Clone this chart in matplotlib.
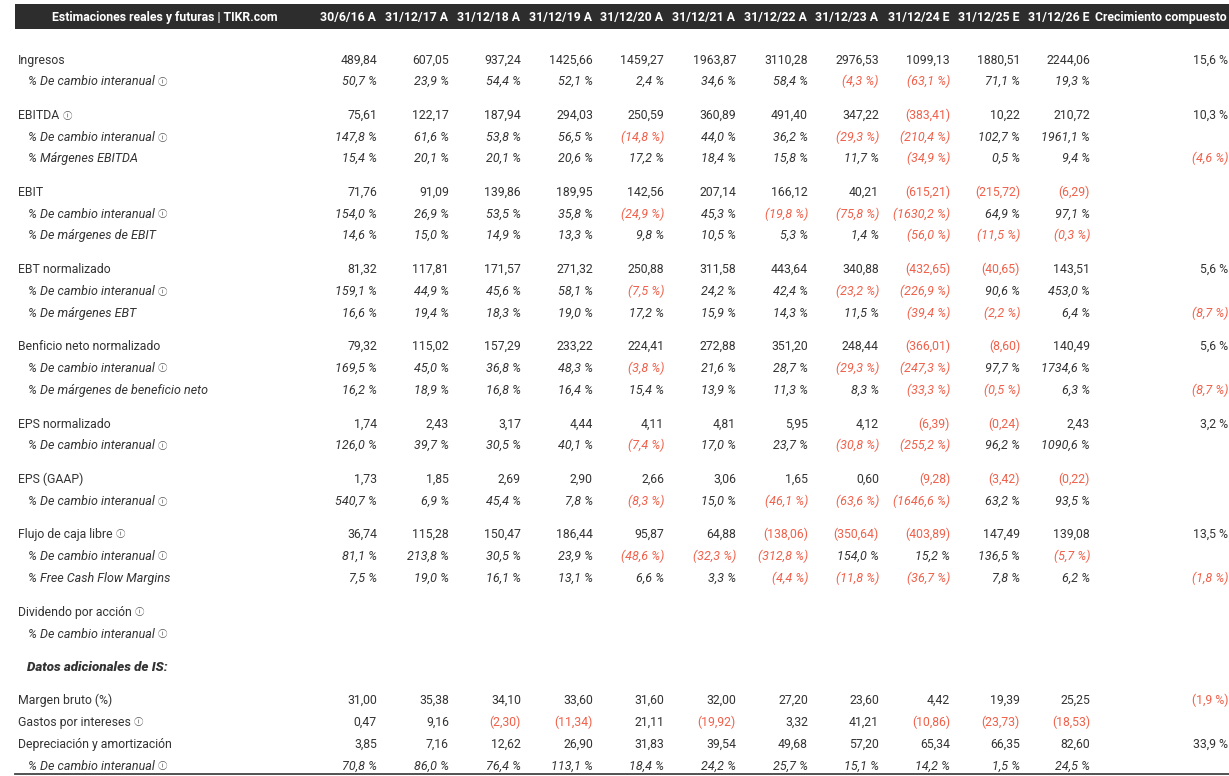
import matplotlib
matplotlib.use("Agg")
import matplotlib.pyplot as plt
from matplotlib.patches import Rectangle

plt.rcParams['font.family'] = ['Roboto', 'DejaVu Sans']

# Columnas
columnas = ['30/6/16 A', '31/12/17 A', '31/12/18 A', '31/12/19 A', '31/12/20 A', '31/12/21 A',
            '31/12/22 A', '31/12/23 A', '31/12/24 E', '31/12/25 E', '31/12/26 E']
titulo = 'Estimaciones reales y futuras | TIKR.com'
col_cagr = 'Crecimiento compuesto'

# Datos por fila
ingresos = [489.84, 607.05, 937.24, 1425.66, 1459.27, 1963.87, 3110.28, 2976.53, 1099.13, 1880.51, 2244.06]
ingresos_yoy = [50.7, 23.9, 54.4, 52.1, 2.4, 34.6, 58.4, -4.3, -63.1, 71.1, 19.3]
ebitda = [75.61, 122.17, 187.94, 294.03, 250.59, 360.89, 491.40, 347.22, -383.41, 10.22, 210.72]
ebitda_yoy = [147.8, 61.6, 53.8, 56.5, -14.8, 44.0, 36.2, -29.3, -210.4, 102.7, 1961.1]
ebitda_margen = [15.4, 20.1, 20.1, 20.6, 17.2, 18.4, 15.8, 11.7, -34.9, 0.5, 9.4]
ebit = [71.76, 91.09, 139.86, 189.95, 142.56, 207.14, 166.12, 40.21, -615.21, -215.72, -6.29]
ebit_yoy = [154.0, 26.9, 53.5, 35.8, -24.9, 45.3, -19.8, -75.8, -1630.2, 64.9, 97.1]
ebit_margen = [14.6, 15.0, 14.9, 13.3, 9.8, 10.5, 5.3, 1.4, -56.0, -11.5, -0.3]
ebt = [81.32, 117.81, 171.57, 271.32, 250.88, 311.58, 443.64, 340.88, -432.65, -40.65, 143.51]
ebt_yoy = [159.1, 44.9, 45.6, 58.1, -7.5, 24.2, 42.4, -23.2, -226.9, 90.6, 453.0]
ebt_margen = [16.6, 19.4, 18.3, 19.0, 17.2, 15.9, 14.3, 11.5, -39.4, -2.2, 6.4]
neto = [79.32, 115.02, 157.29, 233.22, 224.41, 272.88, 351.20, 248.44, -366.01, -8.60, 140.49]
neto_yoy = [169.5, 45.0, 36.8, 48.3, -3.8, 21.6, 28.7, -29.3, -247.3, 97.7, 1734.6]
neto_margen = [16.2, 18.9, 16.8, 16.4, 15.4, 13.9, 11.3, 8.3, -33.3, -0.5, 6.3]
eps = [1.74, 2.43, 3.17, 4.44, 4.11, 4.81, 5.95, 4.12, -6.39, -0.24, 2.43]
eps_yoy = [126.0, 39.7, 30.5, 40.1, -7.4, 17.0, 23.7, -30.8, -255.2, 96.2, 1090.6]
eps_gaap = [1.73, 1.85, 2.69, 2.90, 2.66, 3.06, 1.65, 0.60, -9.28, -3.42, -0.22]
eps_gaap_yoy = [540.7, 6.9, 45.4, 7.8, -8.3, 15.0, -46.1, -63.6, -1646.6, 63.2, 93.5]
fcf = [36.74, 115.28, 150.47, 186.44, 95.87, 64.88, -138.06, -350.64, -403.89, 147.49, 139.08]
fcf_yoy = [81.1, 213.8, 30.5, 23.9, -48.6, -32.3, -312.8, 154.0, 15.2, 136.5, -5.7]
fcf_margen = [7.5, 19.0, 16.1, 13.1, 6.6, 3.3, -4.4, -11.8, -36.7, 7.8, 6.2]
dividendo = [None] * 11
dividendo_yoy = [None] * 11
margen_bruto = [31.00, 35.38, 34.10, 33.60, 31.60, 32.00, 27.20, 23.60, 4.42, 19.39, 25.25]
intereses = [0.47, 9.16, -2.30, -11.34, 21.11, -19.92, 3.32, 41.21, -10.86, -23.73, -18.53]
depreciacion = [3.85, 7.16, 12.62, 26.90, 31.83, 39.54, 49.68, 57.20, 65.34, 66.35, 82.60]
depreciacion_yoy = [70.8, 86.0, 76.4, 113.1, 18.4, 24.2, 25.7, 15.1, 14.2, 1.5, 24.5]

# (etiqueta, valores, cagr, tipo, icono, y)
# tipo: 'n' numero, 'p' porcentaje (italica), 'h' subtitulo
filas = [
    ('Ingresos', ingresos, 15.6, 'n', False, 59),
    ('% De cambio interanual', ingresos_yoy, None, 'p', True, 80),
    ('EBITDA', ebitda, 10.3, 'n', True, 114),
    ('% De cambio interanual', ebitda_yoy, None, 'p', True, 136),
    ('% Márgenes EBITDA', ebitda_margen, -4.6, 'p', False, 157),
    ('EBIT', ebit, None, 'n', False, 191),
    ('% De cambio interanual', ebit_yoy, None, 'p', True, 213),
    ('% De márgenes de EBIT', ebit_margen, None, 'p', False, 234),
    ('EBT normalizado', ebt, 5.6, 'n', False, 268),
    ('% De cambio interanual', ebt_yoy, None, 'p', True, 290),
    ('% De márgenes EBT', ebt_margen, -8.7, 'p', False, 312),
    ('Benficio neto normalizado', neto, 5.6, 'n', False, 345),
    ('% De cambio interanual', neto_yoy, None, 'p', True, 367),
    ('% De márgenes de beneficio neto', neto_margen, -8.7, 'p', False, 389),
    ('EPS normalizado', eps, 3.2, 'n', False, 423),
    ('% De cambio interanual', eps_yoy, None, 'p', True, 444),
    ('EPS (GAAP)', eps_gaap, None, 'n', False, 478),
    ('% De cambio interanual', eps_gaap_yoy, None, 'p', True, 500),
    ('Flujo de caja libre', fcf, 13.5, 'n', True, 533),
    ('% De cambio interanual', fcf_yoy, None, 'p', True, 555),
    ('% Free Cash Flow Margins', fcf_margen, -1.8, 'p', False, 577),
    ('Dividendo por acción', dividendo, None, 'n', True, 611),
    ('% De cambio interanual', dividendo_yoy, None, 'p', True, 633),
    ('Datos adicionales de IS:', None, None, 'h', False, 666),
    ('Margen bruto (%)', margen_bruto, -1.9, 'n', False, 699),
    ('Gastos por intereses', intereses, None, 'n', True, 721),
    ('Depreciación y amortización', depreciacion, 33.9, 'n', False, 743),
    ('% De cambio interanual', depreciacion_yoy, None, 'p', True, 765),
]

x_cols = [377, 449, 521, 593, 664, 736, 808, 879, 950, 1020, 1090]
x_cagr = 1228

GRIS = '#333333'
ROJO = '#f0604a'
FS = 8.8
FS_IT = 9.0
FS_HEAD = 8.8
DY = 1.5


def fmt(v, pct):
    s = f'{abs(v):.1f}' if pct else f'{abs(v):.2f}'
    s = s.replace('.', ',')
    if pct:
        s += ' %'
    if v < 0:
        s = '(' + s + ')'
    return s


fig = plt.figure(figsize=(12.29, 7.76), dpi=100)
ax = fig.add_axes([0, 0, 1, 1])
ax.set_xlim(0, 1229)
ax.set_ylim(776, 0)
ax.axis('off')

# Cabecera
ax.add_patch(Rectangle((15, 4), 1214, 25, color='#2d2d2d', lw=0))
ax.text(164.5, 17, titulo, color='white', fontsize=FS_HEAD, fontweight='bold', ha='center', va='center')
for x, c in zip(x_cols, columnas):
    ax.text(x - 1, 17, c, color='white', fontsize=FS_HEAD, fontweight='bold', ha='right', va='center')
ax.text(x_cagr - 1.5, 17, col_cagr, color='white', fontsize=FS_HEAD, fontweight='bold', ha='right', va='center')

renderer = fig.canvas.get_renderer()

for etiqueta, valores, cagr, tipo, icono, y in filas:
    y = y + DY
    if tipo == 'h':
        ax.text(27, y, etiqueta, color=GRIS, fontsize=9.6, fontweight='black', style='italic',
                ha='left', va='center')
        continue
    ital = 'italic' if tipo == 'p' else 'normal'
    fs = FS_IT if tipo == 'p' else FS
    x0 = 28 if tipo == 'p' else 18
    t = ax.text(x0, y, etiqueta, color=GRIS, fontsize=fs, style=ital, ha='left', va='center')
    if icono:
        bb = t.get_window_extent(renderer)
        ax.text(bb.x1 + 3, y + 0.5, 'ⓘ', color='#555555', fontsize=6.8,
                family=['Noto Sans CJK JP', 'DejaVu Sans'], ha='left', va='center')
    pct = tipo == 'p'
    for x, v in zip(x_cols, valores):
        if v is None:
            continue
        ax.text(x, y, fmt(v, pct), color=ROJO if v < 0 else GRIS, fontsize=fs, style=ital,
                ha='right', va='center')
    if cagr is not None:
        ax.text(x_cagr, y, fmt(cagr, True), color=ROJO if cagr < 0 else GRIS, fontsize=fs,
                style=ital, ha='right', va='center')

ax.plot([15, 1229], [773.5, 773.5], color='#444444', lw=1.3)

fig.savefig('out.png', dpi=100)
